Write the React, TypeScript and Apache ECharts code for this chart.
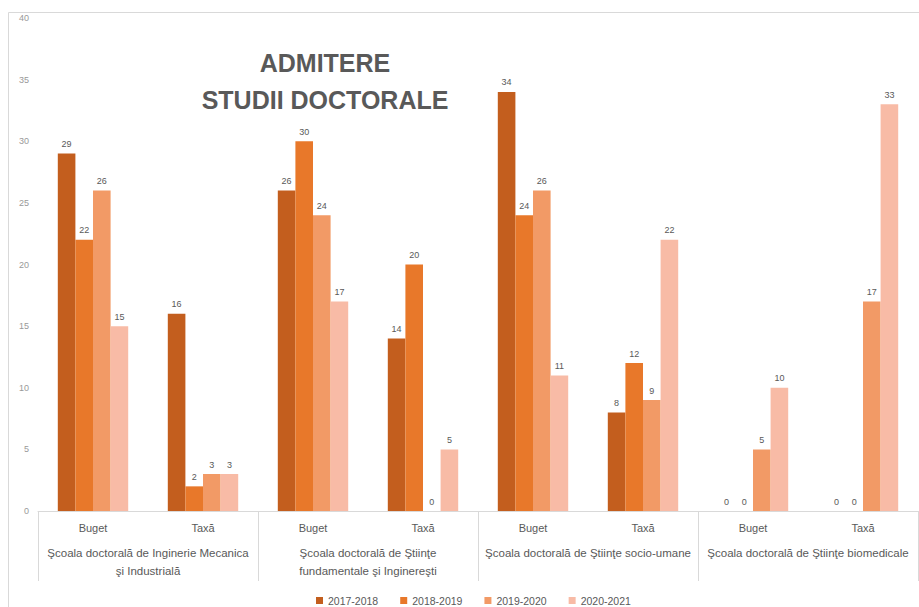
import React, { useEffect, useRef } from "react";
import * as echarts from "echarts";

const subCategories = ["Buget", "Taxă", "Buget", "Taxă", "Buget", "Taxă", "Buget", "Taxă"];
const groupLabels = [
  "Şcoala doctorală de Inginerie Mecanica\nşi Industrială",
  "Şcoala doctorală de Ştiinţe\nfundamentale şi Inginereşti",
  "Şcoala doctorală de Ştiinţe socio-umane",
  "Şcoala doctorală de Ştiinţe biomedicale",
];
const seriesNames = ["2017-2018", "2018-2019", "2019-2020", "2020-2021"];
const values2017 = [29, 16, 26, 14, 34, 8, 0, 0];
const values2018 = [22, 2, 30, 20, 24, 12, 0, 0];
const values2019 = [26, 3, 24, 0, 26, 9, 5, 17];
const values2020 = [15, 3, 17, 5, 11, 22, 10, 33];
const seriesColors = ["#C35E1E", "#E8782A", "#F29A66", "#F8BBA6"];
const yTicks = { min: 0, max: 40, interval: 5 };
const titleText = "ADMITERE\nSTUDII DOCTORALE";

export default function App() {
  const ref = useRef<HTMLDivElement>(null);
  useEffect(() => {
    if (!ref.current) return;
    const chart = echarts.init(ref.current, null, { renderer: "svg" });
    const allValues = [values2017, values2018, values2019, values2020];
    chart.setOption({
      animation: false,
      backgroundColor: "#ffffff",
      textStyle: { fontFamily: "Liberation Sans, Arial, sans-serif" },
      graphic: [
        {
          type: "rect",
          shape: { x: 8.5, y: 12.5, width: 920, height: 600 },
          style: { fill: "none", stroke: "#d9d9d9", lineWidth: 1 },
          silent: true,
        },
        {
          type: "text",
          x: 325,
          y: 44,
          style: {
            text: titleText,
            fontSize: 25,
            fontWeight: "bold",
            fill: "#595959",
            align: "center",
            verticalAlign: "top",
            lineHeight: 37,
            fontFamily: "Liberation Sans, Arial, sans-serif",
          },
        },
      ],
      legend: {
        data: seriesNames,
        left: 311,
        top: 590,
        itemWidth: 7,
        itemHeight: 7,
        itemGap: 22,
        icon: "rect",
        textStyle: { fontSize: 10.5, color: "#595959" },
      },
      grid: { left: 38, right: 1, top: 18, bottom: 96, containLabel: false },
      xAxis: [
        {
          type: "category",
          data: subCategories,
          position: "bottom",
          axisLine: { show: true, lineStyle: { color: "#d9d9d9", width: 1 } },
          axisTick: { show: false },
          axisLabel: { interval: 0, margin: 11, fontSize: 11, color: "#595959" },
        },
        {
          type: "category",
          data: groupLabels,
          position: "bottom",
          axisLine: { show: false },
          axisTick: { show: true, length: 70, interval: 0, lineStyle: { color: "#d9d9d9", width: 1 } },
          axisLabel: { interval: 0, margin: 33, fontSize: 11.5, lineHeight: 18, color: "#595959" },
        },
      ],
      yAxis: {
        type: "value",
        min: yTicks.min,
        max: yTicks.max,
        interval: yTicks.interval,
        axisLine: { show: false },
        axisTick: { show: false },
        splitLine: { show: false },
        axisLabel: { fontSize: 9, color: "#999999", margin: 9 },
      },
      series: seriesNames.map((name, i) => ({
        name,
        type: "bar",
        xAxisIndex: 0,
        data: allValues[i],
        barGap: "0%",
        barCategoryGap: "36%",
        itemStyle: { color: seriesColors[i] },
        label: {
          show: true,
          position: "top",
          distance: 5,
          fontSize: 9,
          color: "#595959",
        },
      })),
    });
    return () => chart.dispose();
  }, []);
  return (
    <div
      ref={ref}
      style={{ position: "absolute", left: 0, top: 0, width: 919, height: 607 }}
    />
  );
}
